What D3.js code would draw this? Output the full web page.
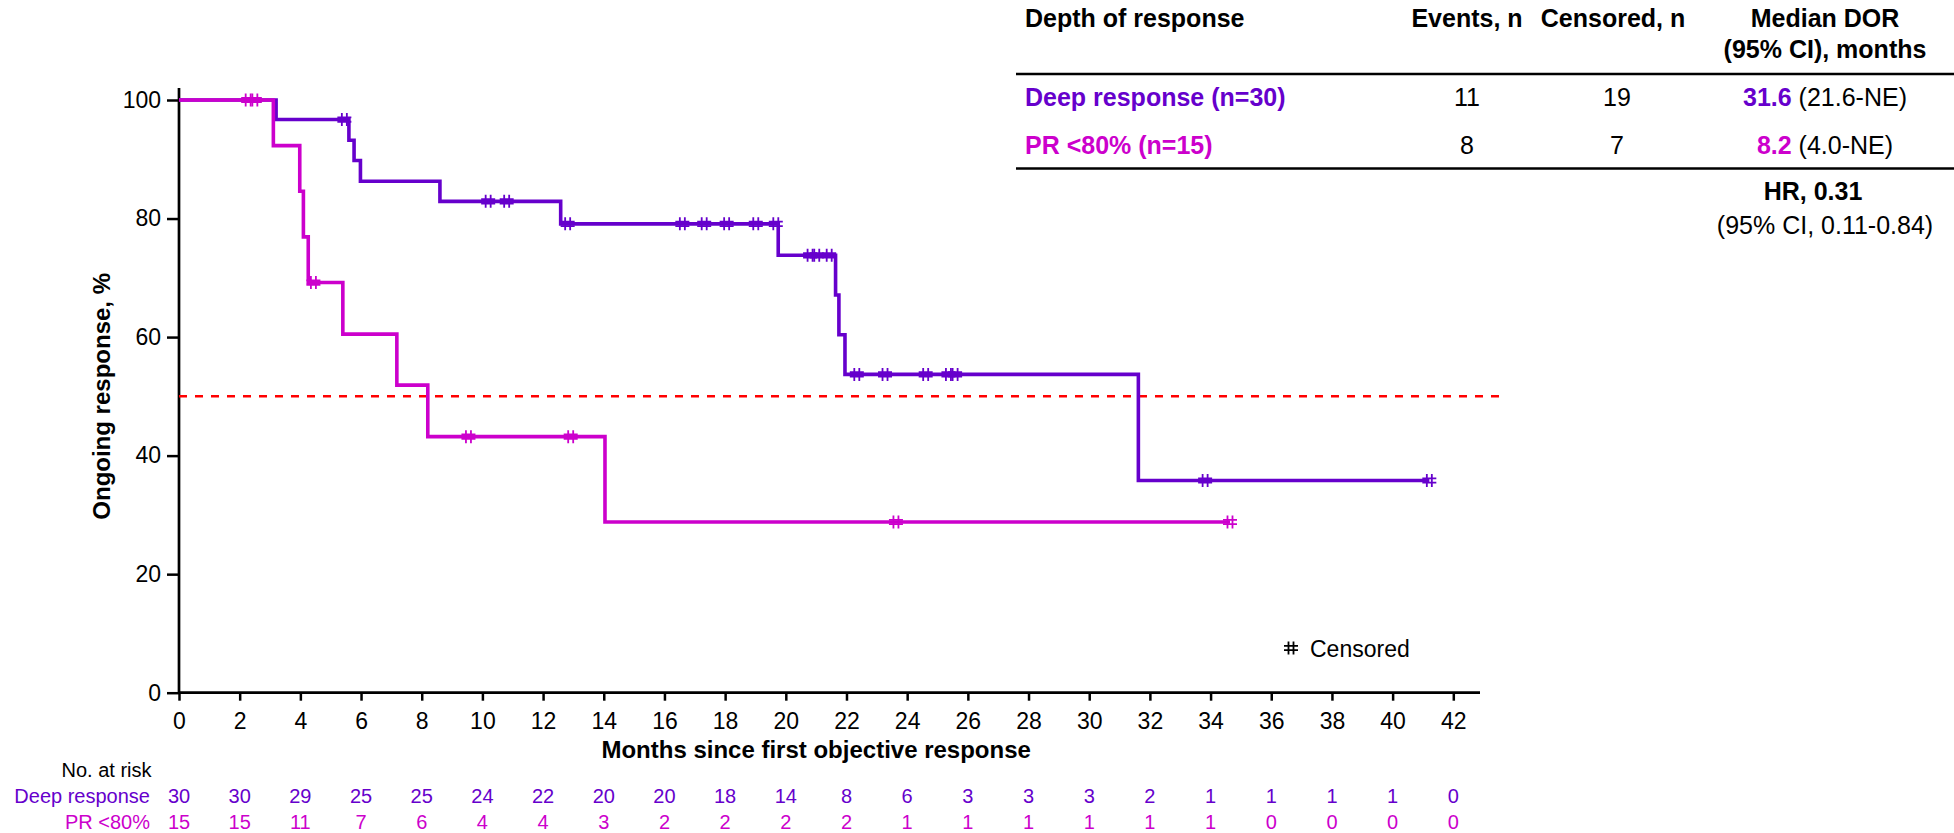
<!DOCTYPE html>
<html>
<head>
<meta charset="utf-8">
<script src="https://cdn.jsdelivr.net/npm/d3@7/dist/d3.min.js"></script>
<style>
  html, body { margin: 0; padding: 0; background: #ffffff; }
  svg { display: block; font-family: "Liberation Sans", Arial, Helvetica, sans-serif; }
</style>
</head>
<body>
<svg id="chart" width="1954" height="833"></svg>
<script>
// Kaplan-Meier steps (months, % ongoing response) and censoring times
const deepStepTimes = [0, 3.20, 5.60, 5.77, 5.98, 8.60, 12.58, 19.75, 21.64, 21.75, 21.95, 31.62];
const deepStepValues = [100, 96.7, 93.2, 89.8, 86.3, 82.9, 79.1, 73.8, 67.1, 60.4, 53.7, 35.8];
const deepCensored = [5.45, 10.19, 10.80, 12.81, 16.59, 17.31, 18.05, 19.01, 19.67, 20.80, 21.02, 21.43,
                      22.34, 23.27, 24.61, 25.36, 25.58, 33.82, 41.21];

const prStepTimes = [0, 3.11, 3.98, 4.10, 4.26, 5.40, 7.18, 8.20, 14.04];
const prStepValues = [100, 92.3, 84.6, 76.9, 69.2, 60.5, 51.9, 43.2, 28.8];
const prCensored = [2.28, 2.50, 4.43, 9.54, 12.91, 23.63, 34.64];

// Axis ticks
const xTicks = d3.range(0, 43, 2);
const yTicks = [0, 20, 40, 60, 80, 100];
const medianLine = 50;

// Number at risk, one value per x tick
const riskDeep = [30, 30, 29, 25, 25, 24, 22, 20, 20, 18, 14, 8, 6, 3, 3, 3, 2, 1, 1, 1, 1, 0];
const riskPR = [15, 15, 11, 7, 6, 4, 4, 3, 2, 2, 2, 2, 1, 1, 1, 1, 1, 1, 0, 0, 0, 0];

// Summary table
const tableHeaders = ["Depth of response", "Events, n", "Censored, n", "Median DOR", "(95% CI), months"];
const groupNames = ["Deep response (n=30)", "PR <80% (n=15)"];
const groupEvents = [11, 8];
const groupCensored = [19, 7];
const groupMedian = ["31.6", "8.2"];
const groupMedianCI = ["(21.6-NE)", "(4.0-NE)"];
const hazardRatio = "HR, 0.31";
const hazardRatioCI = "(95% CI, 0.11-0.84)";

const DEEP = "#6600cc";
const PR = "#cc00cc";

const svg = d3.select("#chart");
const x = d3.scaleLinear().domain([0, 42]).range([179, 1453.3]);
const y = d3.scaleLinear().domain([0, 100]).range([692.7, 100]);

// ---- Axes ----
const xAxis = d3.axisBottom(x).tickValues(xTicks).tickSize(8).tickPadding(12).tickSizeOuter(0);
const gx = svg.append("g").attr("transform", `translate(0,${y(0)})`).call(xAxis);
gx.select(".domain").remove();
gx.selectAll(".tick line").attr("stroke", "#000").attr("stroke-width", 2.5);
gx.selectAll(".tick text").attr("font-size", 23).attr("fill", "#000").style("font-family", "inherit");

const yAxis = d3.axisLeft(y).tickValues(yTicks).tickSize(12).tickPadding(6).tickSizeOuter(0);
const gy = svg.append("g").attr("transform", `translate(${x(0)},0)`).call(yAxis);
gy.select(".domain").remove();
gy.selectAll(".tick line").attr("stroke", "#000").attr("stroke-width", 2.5);
gy.selectAll(".tick text").attr("font-size", 23).attr("fill", "#000").style("font-family", "inherit");

svg.append("line").attr("x1", x(0)).attr("x2", 1480).attr("y1", y(0)).attr("y2", y(0))
  .attr("stroke", "#000").attr("stroke-width", 2.7);
svg.append("line").attr("x1", x(0)).attr("x2", x(0)).attr("y1", 88).attr("y2", y(0) + 1)
  .attr("stroke", "#000").attr("stroke-width", 2.7);

svg.append("text")
  .attr("transform", `translate(101.7,${(y(0) + y(100)) / 2}) rotate(-90)`)
  .attr("text-anchor", "middle").attr("dy", "0.35em")
  .attr("font-size", 24).attr("font-weight", "bold").text("Ongoing response, %");

svg.append("text").attr("x", (x(0) + x(42)) / 2).attr("y", 758)
  .attr("text-anchor", "middle").attr("font-size", 24).attr("font-weight", "bold")
  .text("Months since first objective response");

// ---- Median reference line ----
svg.append("line").attr("x1", x(0)).attr("x2", 1506).attr("y1", y(medianLine)).attr("y2", y(medianLine))
  .attr("stroke", "#ff0000").attr("stroke-width", 2.5).attr("stroke-dasharray", "8,8");

// ---- Survival curves ----
const line = d3.line().x(d => x(d[0])).y(d => y(d[1])).curve(d3.curveStepAfter);

function survivalAt(times, values, t) {
  let v = values[0];
  for (let i = 0; i < times.length; i++) if (times[i] <= t) v = values[i];
  return v;
}

const censorGlyph = "M-2.5,-6.5V6.5M2.5,-6.5V6.5M-7,-2.2H7M-7,2.2H7";

function drawGroup(times, values, censored, color) {
  const lastT = d3.max(censored.concat(times));
  const pts = times.map((t, i) => [t, values[i]]);
  pts.push([lastT, values[values.length - 1]]);
  svg.append("path").datum(pts).attr("d", line)
    .attr("fill", "none").attr("stroke", color).attr("stroke-width", 3.6)
    .attr("stroke-linejoin", "miter");
  svg.append("g").selectAll("path").data(censored).join("path")
    .attr("transform", t => `translate(${x(t)},${y(survivalAt(times, values, t))})`)
    .attr("d", censorGlyph)
    .attr("fill", "none").attr("stroke", color).attr("stroke-width", 1.8);
}

drawGroup(deepStepTimes, deepStepValues, deepCensored, DEEP);
drawGroup(prStepTimes, prStepValues, prCensored, PR);

// ---- Legend ----
svg.append("path").attr("transform", "translate(1291,648)")
  .attr("d", censorGlyph)
  .attr("fill", "none").attr("stroke", "#000").attr("stroke-width", 1.8);
svg.append("text").attr("x", 1310).attr("y", 656.5).attr("font-size", 23).text("Censored");

// ---- Number at risk ----
svg.append("text").attr("x", 151.5).attr("y", 777).attr("text-anchor", "end")
  .attr("font-size", 20).text("No. at risk");
svg.append("text").attr("x", 150).attr("y", 802.5).attr("text-anchor", "end")
  .attr("font-size", 20).attr("fill", DEEP).text("Deep response");
svg.append("text").attr("x", 150).attr("y", 828.5).attr("text-anchor", "end")
  .attr("font-size", 20).attr("fill", PR).text("PR <80%");
svg.append("g").selectAll("text").data(riskDeep).join("text")
  .attr("x", (d, i) => x(xTicks[i])).attr("y", 802.5).attr("text-anchor", "middle")
  .attr("font-size", 20).attr("fill", DEEP).text(d => d);
svg.append("g").selectAll("text").data(riskPR).join("text")
  .attr("x", (d, i) => x(xTicks[i])).attr("y", 828.5).attr("text-anchor", "middle")
  .attr("font-size", 20).attr("fill", PR).text(d => d);

// ---- Summary table ----
const T = svg.append("g").attr("font-size", 25);
T.append("text").attr("x", 1025).attr("y", 27).attr("font-weight", "bold").text(tableHeaders[0]);
T.append("text").attr("x", 1467).attr("y", 27).attr("text-anchor", "middle").attr("font-weight", "bold").text(tableHeaders[1]);
T.append("text").attr("x", 1613).attr("y", 27).attr("text-anchor", "middle").attr("font-weight", "bold").text(tableHeaders[2]);
T.append("text").attr("x", 1825).attr("y", 27).attr("text-anchor", "middle").attr("font-weight", "bold").text(tableHeaders[3]);
T.append("text").attr("x", 1825).attr("y", 58).attr("text-anchor", "middle").attr("font-weight", "bold").text(tableHeaders[4]);

T.append("line").attr("x1", 1016).attr("x2", 1954).attr("y1", 74).attr("y2", 74).attr("stroke", "#000").attr("stroke-width", 2.7);
T.append("line").attr("x1", 1016).attr("x2", 1954).attr("y1", 168.5).attr("y2", 168.5).attr("stroke", "#000").attr("stroke-width", 2.7);

const rowY = [106, 154];
const rowColor = [DEEP, PR];
groupNames.forEach((name, i) => {
  T.append("text").attr("x", 1025).attr("y", rowY[i]).attr("font-weight", "bold").attr("fill", rowColor[i]).text(name);
  T.append("text").attr("x", 1467).attr("y", rowY[i]).attr("text-anchor", "middle").text(groupEvents[i]);
  T.append("text").attr("x", 1617).attr("y", rowY[i]).attr("text-anchor", "middle").text(groupCensored[i]);
  const m = T.append("text").attr("x", 1825).attr("y", rowY[i]).attr("text-anchor", "middle");
  m.append("tspan").attr("font-weight", "bold").attr("fill", rowColor[i]).text(groupMedian[i]);
  m.append("tspan").text(" " + groupMedianCI[i]);
});

T.append("text").attr("x", 1813).attr("y", 199.5).attr("text-anchor", "middle").attr("font-weight", "bold").text(hazardRatio);
T.append("text").attr("x", 1825).attr("y", 233.5).attr("text-anchor", "middle").text(hazardRatioCI);
</script>
</body>
</html>
